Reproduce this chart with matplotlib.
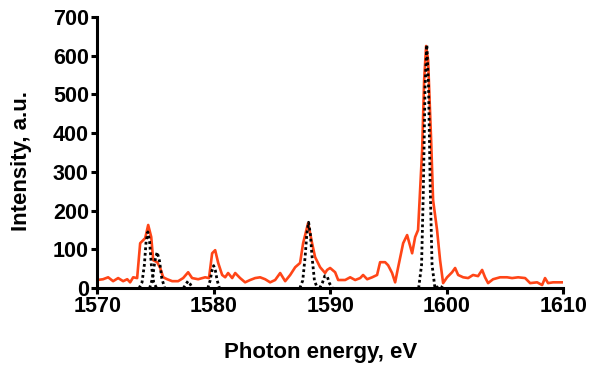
import matplotlib
matplotlib.use("Agg")
import matplotlib.pyplot as plt

plt.rcParams['font.family'] = ['Liberation Sans', 'DejaVu Sans']

# experimental spectrum (orange)
energy = [1570.0, 1570.5, 1570.94, 1571.37, 1571.8, 1572.23, 1572.58, 1572.83, 1573.09, 1573.43,
          1573.69, 1574.12, 1574.38, 1574.64, 1574.81, 1575.15, 1575.41, 1575.67, 1576.01, 1576.44,
          1576.95, 1577.38, 1577.81, 1578.15, 1578.67, 1579.27, 1579.6, 1579.87, 1580.13, 1580.39,
          1580.73, 1580.99, 1581.24, 1581.59, 1581.85, 1582.27, 1582.7, 1583.13, 1583.56, 1583.99,
          1584.42, 1584.85, 1585.28, 1585.71, 1586.14, 1586.57, 1587.0, 1587.42, 1587.68, 1588.11,
          1588.45, 1588.71, 1589.14, 1589.57, 1589.74, 1590.0, 1590.43, 1590.69, 1591.29, 1591.72,
          1592.15, 1592.58, 1592.83, 1593.18, 1593.61, 1594.03, 1594.29, 1594.72, 1594.98, 1595.32,
          1595.58, 1595.84, 1596.27, 1596.61, 1597.04, 1597.3, 1597.55, 1597.9, 1598.07, 1598.24,
          1598.41, 1598.67, 1598.84, 1599.18, 1599.44, 1599.7, 1600.04, 1600.47, 1600.73, 1600.99,
          1601.42, 1601.85, 1602.27, 1602.7, 1603.05, 1603.3, 1603.56, 1603.99, 1604.59, 1605.19,
          1605.62, 1606.14, 1606.74, 1607.17, 1607.77, 1608.2, 1608.45, 1608.71, 1609.14, 1609.91]
intensity = [21, 23, 28, 18, 26, 18, 23, 15, 28, 26,
             116, 129, 163, 132, 72, 67, 52, 28, 23, 18,
             18, 26, 41, 26, 23, 28, 26, 90, 98, 65,
             34, 28, 39, 26, 39, 26, 15, 21, 26, 28,
             23, 15, 21, 39, 18, 34, 54, 65, 116, 168,
             116, 80, 54, 39, 47, 52, 41, 21, 21, 28,
             21, 26, 34, 23, 28, 34, 67, 67, 59, 39,
             15, 54, 116, 137, 90, 132, 150, 357, 537, 625,
             589, 382, 227, 150, 72, 13, 28, 41, 52, 34,
             28, 26, 34, 31, 47, 28, 13, 23, 28, 28,
             26, 28, 26, 13, 15, 8, 26, 13, 15, 15]

# calculated components (black dotted)
calc_e1 = [1573.6, 1573.85, 1574.05, 1574.2, 1574.35, 1574.5, 1574.65, 1574.85, 1575.1]
calc_i1 = [0, 15, 60, 120, 145, 120, 60, 15, 0]
calc_e2 = [1574.5, 1574.75, 1574.95, 1575.15, 1575.35, 1575.55, 1575.8]
calc_i2 = [0, 25, 70, 93, 70, 25, 0]
calc_e3 = [1577.4, 1577.65, 1577.8, 1577.95, 1578.2]
calc_i3 = [0, 12, 18, 12, 0]
calc_e4 = [1579.5, 1579.7, 1579.85, 1580.0, 1580.15, 1580.3, 1580.5]
calc_i4 = [0, 20, 45, 58, 45, 20, 0]
calc_e5 = [1587.4, 1587.65, 1587.85, 1588.0, 1588.15, 1588.3, 1588.45, 1588.65, 1588.9]
calc_i5 = [0, 20, 80, 140, 170, 140, 80, 20, 0]
calc_e6 = [1589.1, 1589.35, 1589.55, 1589.75, 1589.95, 1590.2]
calc_i6 = [0, 15, 32, 30, 12, 0]
calc_e7 = [1597.6, 1597.85, 1598.0, 1598.15, 1598.3, 1598.45, 1598.6, 1598.75, 1599.0]
calc_i7 = [0, 60, 250, 520, 628, 520, 250, 60, 0]
calc_e8 = [1599.1, 1599.3, 1599.5, 1599.7]
calc_i8 = [0, 6, 4, 0]

xticks = [1570, 1580, 1590, 1600, 1610]
yticks = [0, 100, 200, 300, 400, 500, 600, 700]

fig = plt.figure(figsize=(5.89, 3.68), dpi=100)
ax = fig.add_axes([0.165, 0.217, 0.791, 0.737])

ax.plot(energy, intensity, color='#ff4517', lw=1.9, zorder=2)
for e, i in [(calc_e1, calc_i1), (calc_e2, calc_i2), (calc_e3, calc_i3), (calc_e4, calc_i4),
             (calc_e5, calc_i5), (calc_e6, calc_i6), (calc_e7, calc_i7), (calc_e8, calc_i8)]:
    ax.plot(e, i, color='black', lw=2.0, ls=(0, (1, 1)), zorder=3)

ax.set_xlim(1570, 1610)
ax.set_ylim(0, 700)
ax.set_xticks(xticks)
ax.set_yticks(yticks)
for side in ['top', 'right']:
    ax.spines[side].set_visible(False)
for side in ['left', 'bottom']:
    ax.spines[side].set_linewidth(2.2)
ax.tick_params(width=2.2, length=4, labelsize=15.5, pad=2)
for lab in ax.get_xticklabels() + ax.get_yticklabels():
    lab.set_fontweight('bold')

ax.set_xlabel("Photon energy, eV", fontsize=16, fontweight='bold')
ax.set_ylabel("Intensity, a.u.", fontsize=16, fontweight='bold')
ax.xaxis.set_label_coords(0.48, -0.2)
ax.yaxis.set_label_coords(-0.139, 0.469)

fig.savefig("out.png", dpi=100)
